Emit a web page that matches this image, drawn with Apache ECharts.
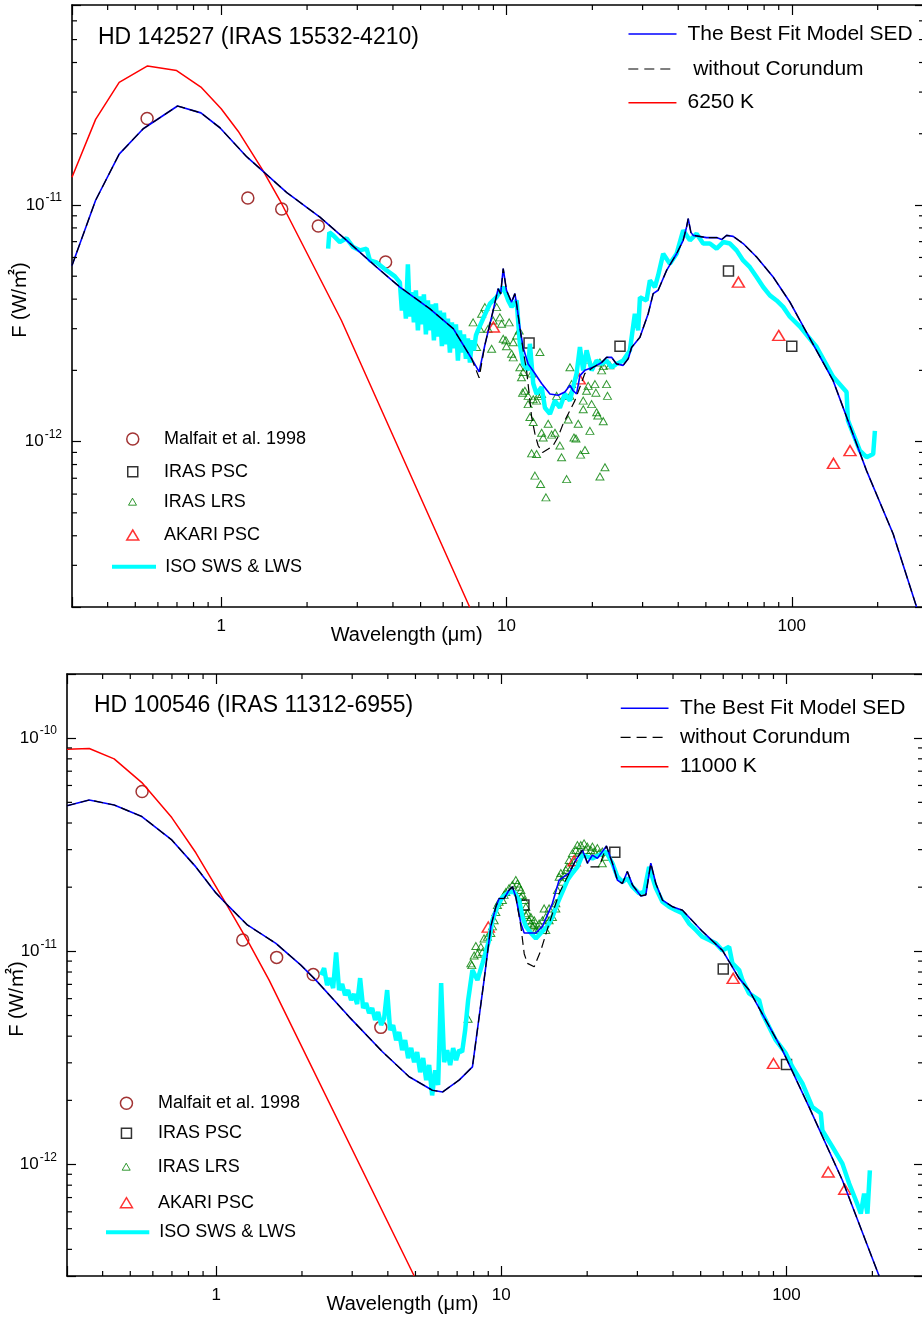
<!DOCTYPE html>
<html>
<head>
<meta charset="utf-8">
<title>SED HD 142527 / HD 100546</title>
<script src="https://cdn.jsdelivr.net/npm/echarts@6.0.0/dist/echarts.min.js"></script>
<style>
  html, body { margin: 0; padding: 0; background: #fff; }
  #sed { width: 922px; height: 1319px; }
</style>
</head>
<body>
<div id="sed"></div>
<script>
// ================= data =================
// every point is [wavelength (um), flux F (W/m^2)]

// ---------- HD 142527 (upper panel) ----------
const modelTop = [[0.300,5.55e-12],[0.363,1.047e-11],[0.439,1.64e-11],[0.533,2.10e-11],[0.703,2.62e-11],[0.849,2.45e-11],[0.99,2.12e-11],[1.228,1.60e-11],[1.695,1.13e-11],[2.218,8.89e-12],[2.751,7.09e-12],[3.505,5.46e-12],[4.23,4.50e-12],[5.39,3.64e-12],[6.51,3.00e-12],[7.55,2.24e-12],[8.02,1.97e-12],[8.40,2.56e-12],[8.98,3.58e-12],[9.35,4.43e-12],[9.54,4.21e-12],[9.74,5.38e-12],[10.0,4.36e-12],[10.42,3.88e-12],[10.70,4.22e-12],[10.85,3.82e-12],[11.14,3.04e-12],[11.44,2.50e-12],[11.91,2.13e-12],[12.58,1.94e-12],[13.28,1.76e-12],[14.20,1.59e-12],[15.18,1.57e-12],[16.02,1.62e-12],[16.69,1.73e-12],[17.13,1.64e-12],[17.61,1.59e-12],[18.09,1.90e-12],[18.82,2.00e-12],[20.13,2.06e-12],[21.55,2.16e-12],[22.43,2.27e-12],[23.35,2.27e-12],[24.31,2.13e-12],[25.65,2.10e-12],[26.71,2.24e-12],[27.45,2.50e-12],[29.36,2.76e-12],[31.38,3.47e-12],[32.67,4.22e-12],[34.01,4.36e-12],[36.41,5.29e-12],[39.47,6.22e-12],[41.63,7.09e-12],[42.78,8.07e-12],[43.35,8.76e-12],[44.30,7.66e-12],[45.13,7.44e-12],[50.27,7.28e-12],[54.51,7.28e-12],[56.75,7.14e-12],[59.09,7.44e-12],[62.30,7.37e-12],[67.54,6.87e-12],[75.28,6.03e-12],[86.07,4.96e-12],[98.47,3.89e-12],[106.8,3.25e-12],[139.6,1.81e-12],[182.8,7.54e-13],[226.7,4.07e-13],[273.8,2.0e-13]];
// stretches where the "without Corundum" model leaves the best fit
const noCorDipsTop = [
  [[7.55,2.24e-12],[8.02,1.86e-12],[8.40,2.56e-12]],
  [[11.14,3.04e-12],[11.44,2.43e-12],[11.76,2.00e-12],[12.01,1.59e-12],[12.25,1.27e-12],[12.58,1.08e-12],[12.91,9.63e-13],[13.38,9.0e-13],[14.0,9.3e-13],[14.58,9.63e-13],[15.18,1.05e-12],[15.80,1.19e-12],[16.46,1.31e-12],[17.37,1.49e-12],[18.09,1.70e-12],[18.82,1.94e-12],[20.13,2.06e-12]]
];
const starTop = [[0.300,1.31e-11],[0.363,2.30e-11],[0.439,3.30e-11],[0.552,3.87e-11],[0.698,3.70e-11],[0.849,3.15e-11],[1.0,2.55e-11],[1.147,2.05e-11],[1.40,1.40e-11],[1.606,1.047e-11],[2.64,3.25e-12],[7.44,1.99e-13]];
const isoTop = [[2.371,6.54e-12],[2.394,7.66e-12],[2.470,7.44e-12],[2.606,6.97e-12],[2.751,7.23e-12],[2.901,6.64e-12],[3.063,6.43e-12],[3.233,6.54e-12],[3.321,5.83e-12],[3.505,5.72e-12],[3.80,5.29e-12],[4.063,4.99e-12],
  [4.230,4.71e-12],[4.299,3.58e-12],[4.369,4.36e-12],[4.440,3.31e-12],[4.512,5.61e-12],[4.586,3.38e-12],[4.660,4.28e-12],[4.736,3.19e-12],[4.813,4.36e-12],[4.892,2.95e-12],[4.971,4.11e-12],[5.052,3.13e-12],[5.135,4.19e-12],[5.218,2.84e-12],[5.303,3.95e-12],[5.390,2.95e-12],[5.477,3.80e-12],[5.567,2.68e-12],[5.657,3.84e-12],[5.749,2.78e-12],[5.843,3.58e-12],[5.938,2.53e-12],[6.035,3.51e-12],[6.133,2.58e-12],[6.233,3.31e-12],[6.334,2.38e-12],[6.437,3.19e-12],[6.542,2.48e-12],[6.649,3.13e-12],[6.757,2.20e-12],[6.867,2.95e-12],[6.979,2.38e-12],[7.093,2.84e-12],[7.208,2.24e-12],[7.326,2.73e-12],[7.445,2.16e-12],[7.566,2.68e-12],[7.690,2.43e-12],[7.815,2.81e-12],[7.942,2.95e-12],
  [8.29,3.32e-12],[8.75,3.83e-12],[9.23,4.08e-12],[9.74,4.50e-12],[10.14,3.95e-12],[10.42,3.71e-12],[10.85,3.95e-12],[11.14,2.59e-12],[11.44,2.13e-12],[11.91,2.00e-12],[12.08,2.59e-12],[12.41,1.76e-12],[12.75,1.59e-12],[13.28,1.70e-12],[13.64,1.39e-12],[14.20,1.31e-12],[14.78,1.49e-12],[15.39,1.39e-12],[16.02,1.59e-12],[16.69,1.49e-12],[17.13,1.70e-12],[17.61,1.94e-12],[18.09,2.51e-12],[18.57,2.00e-12],[19.09,2.43e-12],[19.88,2.00e-12],[20.70,2.20e-12],[21.55,2.13e-12],[22.43,2.20e-12],[23.35,2.06e-12],[24.31,2.13e-12],[25.65,2.20e-12],[27.07,2.43e-12],[28.18,3.47e-12],[28.95,2.95e-12],[29.36,4.07e-12],[30.97,3.95e-12],[31.82,4.80e-12],[33.13,4.50e-12],[34.01,5.04e-12],[35.42,6.22e-12],[37.39,5.65e-12],[39.47,6.22e-12],[41.63,7.82e-12],[43.94,7.09e-12],[46.38,7.56e-12],[48.91,6.87e-12],[51.64,6.87e-12],[54.51,6.54e-12],[57.5,6.97e-12],[60.7,6.87e-12],[64.06,6.43e-12],[67.54,5.83e-12],[71.3,5.46e-12],[75.28,4.96e-12],[79.38,4.50e-12],[83.8,4.15e-12],[88.45,3.95e-12],[93.28,3.71e-12],[98.47,3.37e-12],[106.8,3.06e-12],[122.2,2.51e-12],[139.6,1.88e-12],[155.6,1.62e-12],[157.3,1.23e-12],[164.1,1.08e-12],[173.2,9.16e-13],[182.9,8.59e-13],[192.9,8.86e-13],[195.6,1.11e-12]];
const lrsTop = [[7.64,3.19e-12],[7.86,2.51e-12],[8.07,3.00e-12],[8.18,3.47e-12],[8.40,3.70e-12],[8.62,3.00e-12],[8.87,2.47e-12],[8.98,3.25e-12],[9.24,3.70e-12],[9.48,3.35e-12],[9.61,3.15e-12],[9.74,2.72e-12],[9.95,2.68e-12],[10.0,2.53e-12],[10.22,3.19e-12],[10.42,2.35e-12],[10.56,2.63e-12],[10.56,2.27e-12],[10.85,2.81e-12],[11.08,2.95e-12],[11.14,2.06e-12],[11.29,1.87e-12],[11.39,1.61e-12],[11.44,1.97e-12],[11.60,1.64e-12],[11.91,1.56e-12],[11.91,1.44e-12],[12.08,1.27e-12],[12.25,1.94e-12],[12.25,8.92e-13],[12.41,1.51e-12],[12.41,1.21e-12],[12.58,7.18e-13],[12.75,1.49e-12],[12.75,8.87e-13],[12.91,1.56e-12],[13.10,2.39e-12],[13.17,6.62e-13],[13.28,1.59e-12],[13.28,1.09e-12],[13.45,1.04e-12],[13.75,5.81e-13],[14.0,1.19e-12],[14.40,1.07e-12],[14.79,1.09e-12],[14.99,1.56e-12],[15.39,9.62e-13],[15.60,8.58e-13],[16.02,1.56e-12],[16.25,6.94e-13],[16.46,1.24e-12],[16.69,2.06e-12],[16.69,1.56e-12],[16.92,1.75e-12],[17.24,1.04e-12],[17.52,1.03e-12],[17.84,1.19e-12],[18.19,8.81e-13],[18.58,1.49e-12],[18.58,1.37e-12],[18.84,9.22e-13],[19.09,1.64e-12],[19.26,2.22e-12],[19.34,1.72e-12],[19.61,1.11e-12],[19.88,1.44e-12],[20.42,1.75e-12],[20.58,1.61e-12],[20.7,1.33e-12],[20.9,1.29e-12],[21.26,2.16e-12],[21.26,7.12e-13],[21.55,2.00e-12],[21.84,2.09e-12],[21.84,1.22e-12],[22.14,7.79e-13],[22.43,1.75e-12],[22.6,1.56e-12],[23.05,2.10e-12]];
const malfaitTop = [[0.55,2.32e-11],[1.24,1.07e-11],[1.63,9.62e-12],[2.19,8.15e-12],[3.77,5.74e-12]];
const irasTop = [[12,2.61e-12],[25,2.53e-12],[60,5.26e-12],[100,2.53e-12]];
const akariTop = [[9,3.05e-12],[18,1.84e-12],[65,4.72e-12],[90,2.81e-12],[140,8.09e-13],[160,9.16e-13]];

// ---------- HD 100546 (lower panel) ----------
const modelBottom = [[0.3,4.82e-11],[0.359,5.13e-11],[0.439,4.86e-11],[0.549,4.29e-11],[0.699,3.33e-11],[0.849,2.49e-11],[0.998,1.88e-11],[1.11,1.62e-11],[1.287,1.33e-11],[1.62,1.09e-11],[1.982,8.62e-12],[2.237,7.33e-12],[2.927,4.93e-12],[3.83,3.38e-12],[4.751,2.58e-12],[5.73,2.23e-12],[6.23,2.19e-12],[7.112,2.49e-12],[7.92,2.87e-12],[8.70,7.33e-12],[9.19,1.31e-11],[9.57,1.62e-11],[9.824,1.77e-11],[10.23,1.77e-11],[10.65,1.94e-11],[10.94,2.01e-11],[11.24,1.80e-11],[11.71,1.35e-11],[12.03,1.22e-11],[13.22,1.22e-11],[13.94,1.31e-11],[15.11,1.68e-11],[15.95,2.16e-11],[16.61,2.24e-11],[17.29,2.33e-11],[18.25,2.68e-11],[19.25,2.99e-11],[20.03,2.59e-11],[20.87,2.83e-11],[21.72,2.73e-11],[23.37,3.12e-11],[24.52,2.59e-11],[25.52,2.16e-11],[26.58,2.08e-11],[27.66,2.37e-11],[28.82,2.05e-11],[30.84,1.82e-11],[32.11,1.84e-11],[33.43,2.59e-11],[34.81,2.08e-11],[36.72,1.74e-11],[39.81,1.62e-11],[43.15,1.56e-11],[50.71,1.24e-11],[59.61,1.01e-11],[68.21,7.47e-12],[73.94,6.58e-12],[96.74,3.44e-12],[120.0,1.86e-12],[157.0,8.44e-13],[211.2,3.0e-13]];
const noCorDipsBottom = [
  [[11.24,1.80e-11],[11.71,1.31e-11],[12.03,9.75e-12],[12.35,8.78e-12],[13.04,8.47e-12],[13.76,1.01e-11],[14.71,1.35e-11],[15.95,1.87e-11],[17.06,2.24e-11],[18.25,2.68e-11]],
  [[19.25,2.99e-11],[20.32,2.49e-11],[22.03,2.49e-11],[23.37,3.12e-11]]
];
const starBottom = [[0.3,8.88e-11],[0.359,8.94e-11],[0.439,8.0e-11],[0.549,6.19e-11],[0.699,4.24e-11],[0.849,2.90e-11],[1.082,1.68e-11],[1.305,1.09e-11],[1.534,7.33e-12],[4.95,3.0e-13]];
const isoBottom = [[2.334,7.74e-12],[2.391,8.35e-12],[2.450,6.95e-12],[2.510,7.49e-12],[2.572,6.72e-12],[2.635,9.88e-12],[2.699,6.58e-12],[2.766,7.02e-12],[2.833,6.23e-12],[2.903,6.58e-12],[2.974,5.91e-12],[3.047,6.30e-12],[3.122,5.66e-12],[3.198,7.49e-12],[3.277,5.42e-12],[3.357,5.72e-12],[3.439,5.13e-12],[3.524,5.42e-12],[3.610,4.76e-12],[3.699,5.19e-12],[3.790,4.51e-12],[3.883,4.86e-12],[3.978,6.58e-12],[4.075,4.27e-12],[4.175,4.51e-12],[4.278,3.83e-12],[4.383,4.18e-12],[4.490,3.44e-12],[4.600,3.83e-12],[4.713,3.16e-12],[4.829,3.52e-12],[4.947,3.02e-12],[5.068,3.37e-12],[5.193,2.71e-12],[5.320,3.16e-12],[5.451,2.49e-12],[5.584,2.93e-12],[5.721,2.11e-12],[5.861,2.77e-12],[6.005,2.36e-12],[6.152,7.10e-12],[6.303,3.02e-12],[6.458,3.44e-12],[6.616,2.93e-12],[6.778,3.52e-12],[6.945,3.09e-12],[7.115,3.44e-12],[7.289,3.37e-12],[7.468,4.27e-12],[7.651,5.91e-12],
  [7.711,6.35e-12],[7.919,8.17e-12],[8.246,7.33e-12],[8.586,8.78e-12],[9.062,1.13e-11],[9.307,1.40e-11],[9.69,1.62e-11],[10.09,1.80e-11],[10.65,1.90e-11],[11.09,1.90e-11],[11.55,1.74e-11],[11.86,1.45e-11],[12.19,1.31e-11],[12.69,1.22e-11],[13.22,1.15e-11],[13.76,1.22e-11],[14.51,1.31e-11],[15.11,1.45e-11],[15.73,1.68e-11],[16.38,1.90e-11],[17.06,2.16e-11],[17.76,2.33e-11],[18.49,2.49e-11],[19.25,2.83e-11],[20.03,2.78e-11],[20.87,2.73e-11],[22.03,2.83e-11],[23.25,2.94e-11],[24.52,2.59e-11],[25.53,2.24e-11],[26.58,2.12e-11],[27.67,2.20e-11],[28.82,2.01e-11],[30.42,1.87e-11],[31.67,1.90e-11],[32.98,2.49e-11],[34.81,1.98e-11],[36.72,1.71e-11],[38.76,1.62e-11],[40.92,1.56e-11],[43.15,1.51e-11],[45.55,1.35e-11],[48.08,1.26e-11],[50.71,1.17e-11],[53.54,1.13e-11],[56.52,1.09e-11],[59.61,1.01e-11],[62.92,1.05e-11],[64.62,8.78e-12],[68.21,8.17e-12],[70.05,7.33e-12],[73.94,6.35e-12],[80.16,5.91e-12],[82.33,5.11e-12],[86.9,4.42e-12],[91.73,3.83e-12],[99.44,3.32e-12],[104.9,2.87e-12],[113.7,2.40e-12],[123.2,1.86e-12],[131.9,1.74e-12],[133.6,1.445e-12],[144.9,1.21e-12],[157.0,1.01e-12],[165.8,8.15e-13],[175.0,6.80e-13],[182.2,5.89e-13],[187.1,7.31e-13],[192.2,5.89e-13],[196.0,9.40e-13]];
const lrsBottom = [[7.65,4.83e-12],[7.82,8.78e-12],[7.88,8.62e-12],[8.03,9.57e-12],[8.14,1.06e-11],[8.25,9.75e-12],[8.48,1.05e-11],[8.59,9.92e-12],[8.70,1.15e-11],[8.94,1.17e-11],[9.19,1.22e-11],[9.31,1.31e-11],[9.44,1.40e-11],[9.57,1.53e-11],[9.69,1.65e-11],[9.82,1.71e-11],[10.09,1.74e-11],[10.23,1.84e-11],[10.37,1.90e-11],[10.65,1.98e-11],[10.94,2.05e-11],[11.24,2.16e-11],[11.39,2.08e-11],[11.55,2.01e-11],[11.71,1.94e-11],[11.71,1.80e-11],[11.86,1.84e-11],[12.03,1.74e-11],[12.19,1.62e-11],[12.19,1.48e-11],[12.35,1.51e-11],[12.52,1.40e-11],[12.69,1.45e-11],[12.69,1.35e-11],[12.86,1.31e-11],[13.04,1.40e-11],[13.04,1.33e-11],[13.22,1.26e-11],[13.57,1.35e-11],[13.57,1.28e-11],[13.94,1.40e-11],[14.13,1.59e-11],[14.32,1.45e-11],[14.32,1.26e-11],[14.71,1.59e-11],[14.71,1.40e-11],[15.11,1.45e-11],[15.53,1.68e-11],[15.53,1.59e-11],[15.73,1.94e-11],[15.95,2.24e-11],[16.17,2.33e-11],[16.38,2.12e-11],[16.61,2.28e-11],[16.84,2.41e-11],[17.06,2.49e-11],[17.29,2.68e-11],[17.53,2.45e-11],[17.76,2.89e-11],[18.0,2.63e-11],[18.25,2.99e-11],[18.49,3.15e-11],[18.74,2.94e-11],[19.0,3.15e-11],[19.51,3.21e-11],[19.78,2.99e-11],[20.03,3.10e-11],[20.60,2.99e-11],[20.87,3.10e-11],[21.16,2.94e-11],[21.72,3.05e-11],[22.03,2.89e-11],[22.60,2.94e-11],[22.60,2.59e-11],[23.25,2.78e-11]];
const malfaitBottom = [[0.55,5.62e-11],[1.24,1.13e-11],[1.63,9.37e-12],[2.19,7.78e-12],[3.78,4.40e-12]];
const irasBottom = [[12,1.65e-11],[25,2.92e-11],[60,8.26e-12],[100,2.95e-12]];
const akariBottom = [[9,1.30e-11],[18,2.66e-11],[65,7.47e-12],[90,2.98e-12],[140,9.23e-13],[160,7.66e-13]];

// ================= names / labels =================
const NAME_MODEL = 'The Best Fit Model SED';
const NAME_MALFAIT = 'Malfait et al. 1998';
const NAME_IRAS = 'IRAS PSC';
const NAME_LRS = 'IRAS LRS';
const NAME_AKARI = 'AKARI PSC';
const NAME_ISO = 'ISO SWS & LWS';
const X_NAME = 'Wavelength (\u03bcm)';
const Y_NAME = 'F (W/\u33a1)';
const MINOR_MANTISSA = [2, 3, 4, 5, 6, 7, 8, 9];

// y axes run in units of 1e-12 W/m^2 (ECharts' log scale rounds tiny tick values to 0)
const FLUX_UNIT = 1e-12;
const FLUX_EXP = -12;

const FONT = '"Liberation Sans", Arial, Helvetica, "Noto Sans CJK SC", sans-serif';
const COL = {
  model: '#0000ff', noCor: '#000000', star: '#ff0000', iso: '#00ffff',
  malfait: '#8b0000', iras: '#000000', lrs: '#008000', akari: '#ff0000'
};
const DASH = [9, 5];

// layout of the two panels (pixels); right frame sits just past the page edge
const panels = [
  {
    grid: { left: 72, top: 5, width: 852, height: 602 },
    xMin: 0.3, xMax: 290.7, yMin: 2e-13, yMax: 7e-11,
    star: 'HD 142527 (IRAS 15532-4210)', starAt: [98, 37.5],
    xNameAt: [406.7, 635.5], yNameAt: [20, 300],
    noCorName: ' without Corundum', starName: '6250 K',
    model: modelTop, dips: noCorDipsTop, bb: starTop, iso: isoTop, lrs: lrsTop,
    malfait: malfaitTop, iras: irasTop, akari: akariTop,
    keyRight: { lineStart: 627.7, lineLen: 48, textX: 686.7, rows: [34, 69, 102.7] },
    keyLeft: { iconX: 132, lineStart: 110, lineLen: 44, textX: 163.3, rows: [439, 471.7, 501.7, 535, 566.7] }
  },
  {
    grid: { left: 67, top: 674, width: 856, height: 602 },
    xMin: 0.3, xMax: 301, yMin: 3e-13, yMax: 2e-10,
    star: 'HD 100546 (IRAS 11312-6955)', starAt: [94, 705.5],
    xNameAt: [402.5, 1304], yNameAt: [17.5, 999],
    noCorName: 'without Corundum', starName: '11000 K',
    model: modelBottom, dips: noCorDipsBottom, bb: starBottom, iso: isoBottom, lrs: lrsBottom,
    malfait: malfaitBottom, iras: irasBottom, akari: akariBottom,
    keyRight: { lineStart: 620, lineLen: 47.7, textX: 679.3, rows: [708.3, 737.3, 766.7] },
    keyLeft: { iconX: 125.7, lineStart: 104, lineLen: 43.3, textX: 157.3, rows: [1103.3, 1133.3, 1166.7, 1202.7, 1232.3] }
  }
];

// ================= helpers =================
function toUnits(arr) {
  return arr.map(p => [p[0], p[1] / FLUX_UNIT]);
}

// model without corundum = best fit, with the dip stretches swapped in
function withDips(model, dips) {
  const out = model.filter(p => !dips.some(d => p[0] >= d[0][0] && p[0] <= d[d.length - 1][0]));
  dips.forEach(d => d.forEach(p => out.push(p)));
  return out.sort((a, b) => a[0] - b[0]);
}

function isDecade(v) {
  const e = Math.log10(v);
  return Math.abs(e - Math.round(e)) < 1e-6;
}

function minorValues(lo, hi) {
  const out = [];
  for (let e = Math.floor(Math.log10(lo)); e <= Math.ceil(Math.log10(hi)); e++) {
    MINOR_MANTISSA.forEach(m => {
      const v = +(m * Math.pow(10, e)).toPrecision(6);
      if (v > lo * 1.0001 && v < hi * 0.9999) out.push(v);
    });
  }
  return out;
}

// minor ticks (2..9 per decade) on all four sides, placed through the axes
function minorTickSeries(p, i) {
  const yLo = p.yMin / FLUX_UNIT, yHi = p.yMax / FLUX_UNIT;
  const data = minorValues(p.xMin, p.xMax).map(v => [v, 1, 0])
    .concat(minorValues(yLo, yHi).map(v => [1, v, 1]));
  return {
    type: 'custom', xAxisIndex: 2 * i, yAxisIndex: 2 * i,
    silent: true, clip: false, z: 10, data: data, encode: { x: 0, y: 1 },
    renderItem: function (params, api) {
      const cs = params.coordSys;
      const pt = api.coord([api.value(0), api.value(1)]);
      const st = { stroke: '#000', lineWidth: 1.2 };
      const L = 5;
      if (api.value(2) === 0) {
        return { type: 'group', children: [
          { type: 'line', shape: { x1: pt[0], y1: cs.y + cs.height, x2: pt[0], y2: cs.y + cs.height - L }, style: st },
          { type: 'line', shape: { x1: pt[0], y1: cs.y, x2: pt[0], y2: cs.y + L }, style: st }
        ] };
      }
      return { type: 'group', children: [
        { type: 'line', shape: { x1: cs.x, y1: pt[1], x2: cs.x + L, y2: pt[1] }, style: st },
        { type: 'line', shape: { x1: cs.x + cs.width, y1: pt[1], x2: cs.x + cs.width - L, y2: pt[1] }, style: st }
      ] };
    }
  };
}

function panelSeries(p, i) {
  const ax = { xAxisIndex: 2 * i, yAxisIndex: 2 * i };
  const line = (name, data, color, width, type) => Object.assign({
    type: 'line', name: name, data: toUnits(data), symbol: 'none', showSymbol: false,
    lineStyle: { color: color, width: width, type: type }, itemStyle: { color: color },
    silent: true, clip: true
  }, ax);
  const dots = (name, data, symbol, size, color, bw) => Object.assign({
    type: 'scatter', name: name, data: toUnits(data), symbol: symbol, symbolSize: size,
    itemStyle: { color: 'rgba(0,0,0,0)', borderColor: color, borderWidth: bw },
    silent: true, clip: false
  }, ax);
  return [
    line(NAME_ISO, p.iso, COL.iso, 4.5, 'solid'),
    line(p.starName, p.bb, COL.star, 1.5, 'solid'),
    line(NAME_MODEL, p.model, COL.model, 1.6, 'solid'),
    line(p.noCorName, withDips(p.model, p.dips), COL.noCor, 1.2, DASH),
    dots(NAME_LRS, p.lrs, 'triangle', [8, 7], COL.lrs, 1),
    dots(NAME_IRAS, p.iras, 'rect', 10, COL.iras, 1.5),
    dots(NAME_MALFAIT, p.malfait, 'circle', 12, COL.malfait, 1.5),
    dots(NAME_AKARI, p.akari, 'triangle', [12, 10], COL.akari, 1.5),
    minorTickSeries(p, i)
  ];
}

// one legend component per key row, so each icon sits where the figure has it
function keyRow(name, top, left, w, h, textX, fontSize, lineH, icon, itemStyle, lineStyle) {
  const row = {
    data: [name], orient: 'horizontal', left: left, top: top - Math.max(h, lineH) / 2,
    padding: 0, itemWidth: w, itemHeight: h, selectedMode: false,
    textStyle: { fontSize: fontSize, fontFamily: FONT, color: '#000', lineHeight: lineH,
      padding: [0, 0, 0, textX - (left + w + 5)] },
    itemStyle: itemStyle
  };
  if (icon) row.icon = icon;
  if (lineStyle) row.lineStyle = lineStyle;
  return row;
}

function panelLegends(p) {
  const kr = p.keyRight, kl = p.keyLeft;
  const noFill = { color: 'rgba(0,0,0,0)', borderWidth: 0 };
  const lineRow = (k, name, y, col, width, type, fs, lh) =>
    keyRow(name, y, k.lineStart, k.lineLen, 4, k.textX, fs, lh, null, noFill, { color: col, width: width, type: type });
  const symRow = (name, y, icon, w, h, col, bw) =>
    keyRow(name, y, kl.iconX - w / 2, w, h, kl.textX, 18, 20, icon,
      { color: 'rgba(0,0,0,0)', borderColor: col, borderWidth: bw }, null);
  return [
    lineRow(kr, NAME_MODEL, kr.rows[0], COL.model, 1.6, 'solid', 21, 24),
    lineRow(kr, p.noCorName, kr.rows[1], COL.noCor, 1.2, [10, 6], 21, 24),
    lineRow(kr, p.starName, kr.rows[2], COL.star, 1.5, 'solid', 21, 24),
    symRow(NAME_MALFAIT, kl.rows[0], 'circle', 12, 12, COL.malfait, 1.5),
    symRow(NAME_IRAS, kl.rows[1], 'rect', 10, 10, COL.iras, 1.5),
    symRow(NAME_LRS, kl.rows[2], 'triangle', 8, 7, COL.lrs, 1),
    symRow(NAME_AKARI, kl.rows[3], 'triangle', 12, 10, COL.akari, 1.5),
    lineRow(kl, NAME_ISO, kl.rows[4], COL.iso, 4, 'solid', 18, 20)
  ];
}

function axisPair(kind, p, i) {
  const isX = kind === 'x';
  const lo = isX ? p.xMin : p.yMin / FLUX_UNIT;
  const hi = isX ? p.xMax : p.yMax / FLUX_UNIT;
  const base = {
    type: 'log', logBase: 10, gridIndex: i, min: lo, max: hi,
    axisLine: { show: true, onZero: false, lineStyle: { color: '#000', width: 1.6 } },
    axisTick: { show: true, inside: true, length: isX ? 10 : 9, lineStyle: { color: '#000', width: 1.2 } },
    splitLine: { show: false }, minorTick: { show: false }, minorSplitLine: { show: false }
  };
  const main = Object.assign({}, base, {
    position: isX ? 'bottom' : 'left',
    axisLabel: isX ? {
      show: true, margin: 11, fontSize: 17, fontFamily: FONT, color: '#000',
      formatter: v => isDecade(v) ? String(Math.round(v * 1000) / 1000) : ''
    } : {
      show: true, margin: 10, fontFamily: FONT, color: '#000',
      formatter: v => isDecade(v) ? '{b|10}{s|' + (Math.round(Math.log10(v)) + FLUX_EXP) + '}' : '',
      rich: {
        b: { fontSize: 17, fontFamily: FONT, color: '#000' },
        s: { fontSize: 12, fontFamily: FONT, color: '#000', padding: [0, 0, 14, 1] }
      }
    }
  });
  const mirror = Object.assign({}, base, { position: isX ? 'top' : 'right', axisLabel: { show: false } });
  return [main, mirror];
}

function panelTexts(p) {
  const txt = (x, y, text, size, align, rot) => ({
    type: 'text', x: x, y: y, rotation: rot || 0, silent: true,
    style: { text: text, fontSize: size, fontFamily: FONT, fill: '#000', align: align, verticalAlign: 'middle' }
  });
  return [
    txt(p.starAt[0], p.starAt[1], p.star, 23, 'left'),
    txt(p.xNameAt[0], p.xNameAt[1], X_NAME, 20, 'center'),
    txt(p.yNameAt[0], p.yNameAt[1], Y_NAME, 20, 'center', Math.PI / 2)
  ];
}

// ================= chart =================
const chart = echarts.init(document.getElementById('sed'), null, { renderer: 'canvas' });
const option = {
  animation: false,
  backgroundColor: '#fff',
  textStyle: { fontFamily: FONT },
  // outerBoundsMode none: let the frame run past the page edge as in the figure
  grid: panels.map(p => Object.assign({ containLabel: false, outerBoundsMode: 'none' }, p.grid)),
  xAxis: [].concat(...panels.map((p, i) => axisPair('x', p, i))),
  yAxis: [].concat(...panels.map((p, i) => axisPair('y', p, i))),
  legend: [].concat(...panels.map(panelLegends)),
  series: [].concat(...panels.map(panelSeries)),
  graphic: [].concat(...panels.map(panelTexts))
};
chart.setOption(option);
</script>
</body>
</html>
